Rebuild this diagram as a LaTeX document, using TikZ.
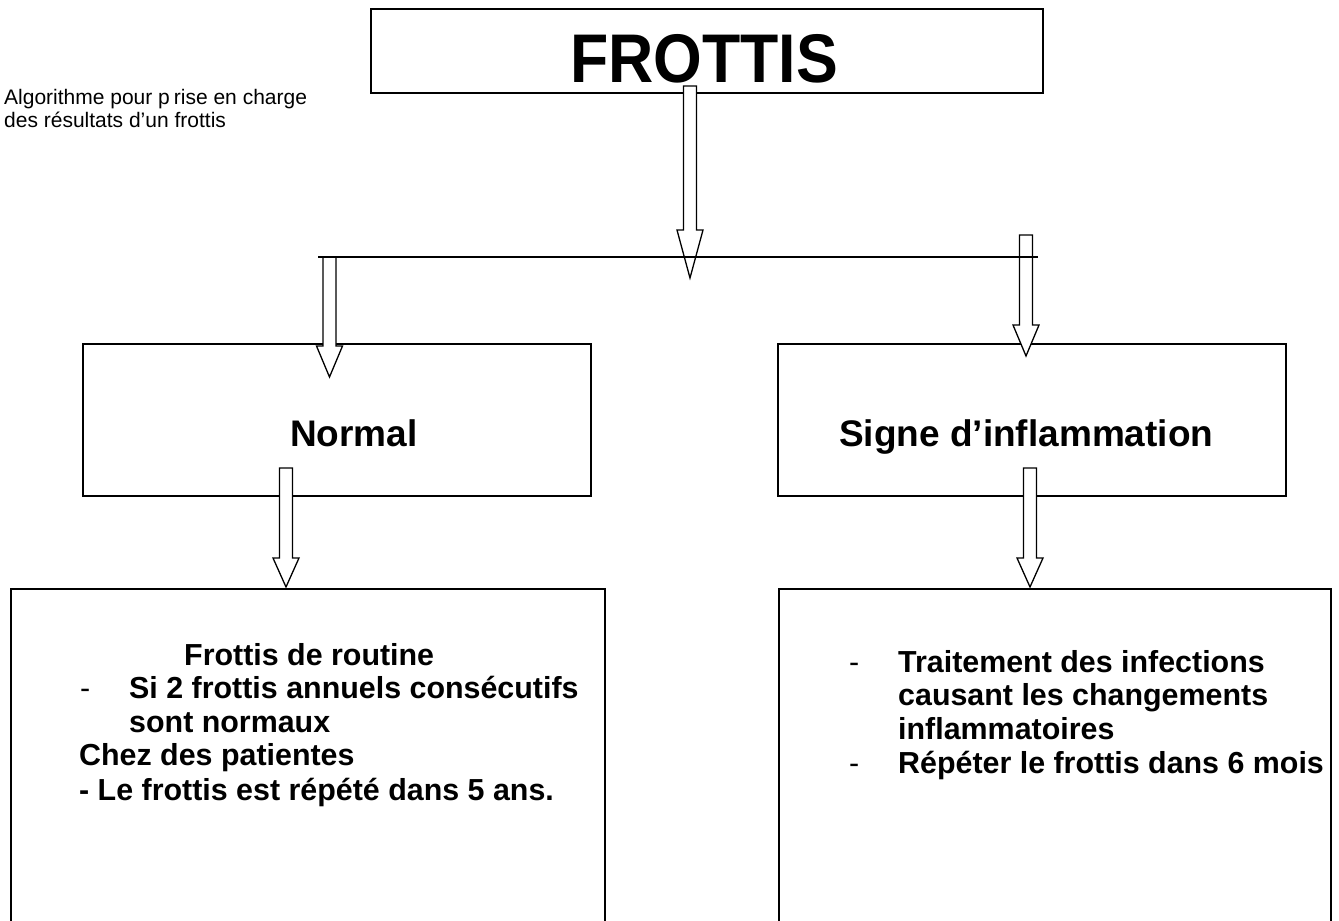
\documentclass[tikz,border=0pt]{standalone}
\usepackage{fontspec}
\setmainfont{Liberation Sans}[Ligatures=NoCommon]
\begin{document}
\begin{tikzpicture}[x=1pt,y=-1pt,
  box/.style={draw, line width=1.6pt, fill=white, inner sep=0pt, anchor=north west},
  barrow/.style={draw, line width=1.3pt, fill=white, line join=miter},
  splitline/.style={line width=1.6pt},
  txt/.style={inner sep=0pt, anchor=base west},
  bodytxt/.style={txt, font=\fontsize{30.4}{34}\selectfont\bfseries},
  dashtxt/.style={txt, font=\fontsize{30.4}{34}\selectfont},
  headtxt/.style={txt, font=\fontsize{37}{42}\selectfont\bfseries},
  notetxt/.style={inner sep=0pt, anchor=north west, align=left,
                  font=\fontsize{21}{23}\selectfont}]
\useasboundingbox (0,0) rectangle (1339,921);
\clip (0,0) rectangle (1339,921);

% hollow block arrow pointing down: centre x, shaft top, head base, tip
\newcommand\blockarr[4]{%
  \draw[barrow] ({#1-6.5},#2) -- ({#1+6.5},#2) -- ({#1+6.5},#3) -- ({#1+13},#3)
    -- (#1,#4) -- ({#1-13},#3) -- ({#1-6.5},#3) -- cycle;}

% boxes
\node[box, minimum width=672, minimum height=84] (top) at (370,8) {};
\node[box, minimum width=508, minimum height=152] (normal) at (82,343) {};
\node[box, minimum width=508, minimum height=152] (signe) at (777,343) {};
\node[box, minimum width=594, minimum height=360] (routine) at (10,588) {};
\node[box, minimum width=552, minimum height=360] (traitement) at (778,588) {};

% titles
\node[txt, font=\fontsize{62.6}{70}\selectfont\bfseries] (ttop) at (570,82)
  {\scalebox{1}[1.1]{FROTTIS}};
\node[notetxt] (note) at (4,89)
  {Algorithme pour p\hspace{4pt}rise en charge\\des résultats d’un frottis};
\node[headtxt] (tnormal) at (290,446) {Normal};
\node[headtxt] (tsigne) at (839,446) {Signe d’inflammation};

% left result box
\node[bodytxt] (l1) at (184,665) {Frottis de routine};
\node[dashtxt] (l2d) at (80,698) {-};
\node[bodytxt] (l2) at (129,698) {Si 2 frottis annuels consécutifs};
\node[bodytxt] (l3) at (129,732) {sont normaux};
\node[bodytxt] (l4) at (79,765) {Chez des patientes};
\node[bodytxt] (l5) at (79,800) {- Le frottis est répété dans 5 ans.};

% right result box
\node[dashtxt] (r1d) at (849,672) {-};
\node[bodytxt] (r1) at (898,672) {Traitement des infections};
\node[bodytxt] (r2) at (898,705) {causant les changements};
\node[bodytxt] (r3) at (898,739) {inflammatoires};
\node[dashtxt] (r4d) at (849,773) {-};
\node[bodytxt] (r4) at (898,773) {Répéter le frottis dans 6 mois};

% arrows
\blockarr{690}{86}{230}{278}
\blockarr{329.5}{257}{346}{377}
\blockarr{1026}{235}{325}{356}
\blockarr{286}{468}{558}{587}
\blockarr{1030}{468}{558}{587}

% branching line
\coordinate (splitL) at (318,257);
\coordinate (splitR) at (1038,257);
\draw[splitline] (splitL) -- (splitR);
\end{tikzpicture}
\end{document}
